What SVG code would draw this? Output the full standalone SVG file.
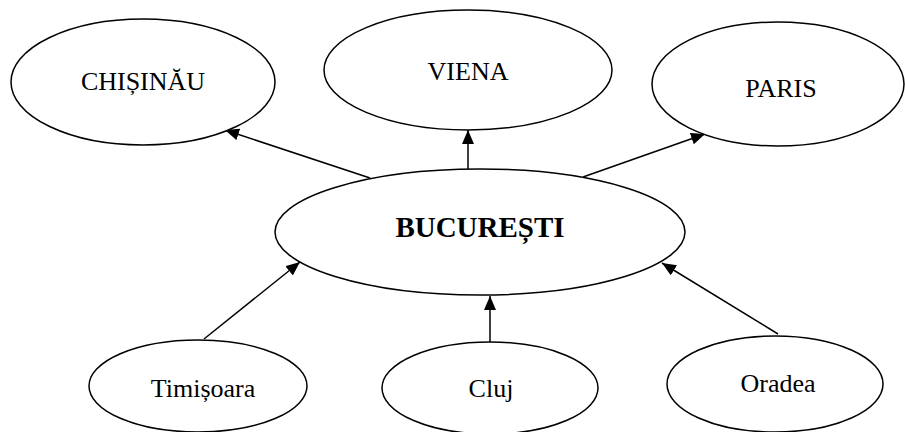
<svg xmlns="http://www.w3.org/2000/svg" width="905" height="432" viewBox="0 0 905 432">
<style>
.node ellipse{fill:#fff;stroke:#000;stroke-width:1.5}
.node text{font-family:"Liberation Serif","Times New Roman",serif;font-size:26px;fill:#000;text-anchor:middle}
.node text.b{font-weight:bold;font-size:29px}
.edges line{stroke:#000;stroke-width:1.5;marker-end:url(#arr)}
</style>
<defs>
<marker id="arr" markerUnits="userSpaceOnUse" markerWidth="14" markerHeight="12" viewBox="0 0 14 12" refX="14" refY="6" orient="auto">
<path d="M0,0 L14,6 L0,12 z" fill="#000"/>
</marker>
</defs>
<g class="edges">
<line x1="370" y1="178" x2="225" y2="130"/>
<line x1="468" y1="171" x2="468" y2="130"/>
<line x1="583" y1="177" x2="705" y2="134"/>
<line x1="204" y1="339" x2="300" y2="262"/>
<line x1="490" y1="343" x2="490" y2="296"/>
<line x1="778" y1="334" x2="662" y2="263"/>
</g>
<g id="chisinau" class="node"><ellipse cx="143" cy="82" rx="132" ry="63"/><text x="143" y="90">CHIȘINĂU</text></g>
<g id="viena" class="node"><ellipse cx="468" cy="70" rx="144" ry="60"/><text x="468" y="80">VIENA</text></g>
<g id="paris" class="node"><ellipse cx="778" cy="84" rx="126" ry="62"/><text x="781" y="97">PARIS</text></g>
<g id="bucuresti" class="node"><ellipse cx="480" cy="232" rx="205" ry="63"/><text class="b" x="480" y="237">BUCUREȘTI</text></g>
<g id="timisoara" class="node"><ellipse cx="198" cy="386" rx="109" ry="46"/><text x="203" y="397">Timișoara</text></g>
<g id="cluj" class="node"><ellipse cx="490" cy="388" rx="108" ry="46"/><text x="491" y="397">Cluj</text></g>
<g id="oradea" class="node"><ellipse cx="775" cy="384" rx="108" ry="48"/><text x="778" y="392">Oradea</text></g>
</svg>
